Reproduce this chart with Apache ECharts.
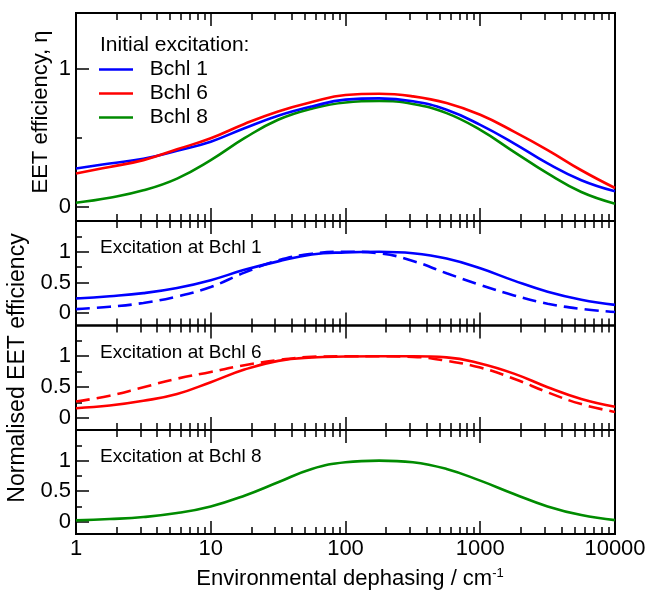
<!DOCTYPE html>
<html>
<head>
<meta charset="utf-8">
<script src="https://cdn.jsdelivr.net/npm/echarts@6/dist/echarts.min.js"></script>
<style>
  html, body { margin: 0; padding: 0; background: #ffffff; }
  #chart { width: 646px; height: 591px; }
</style>
</head>
<body>
<div id="chart"></div>
<script>
// Environmental dephasing rate (cm^-1), quarter-decade sampling
const dephasing = [1, 1.778, 3.162, 5.623, 10, 17.78, 31.62, 56.23, 100, 177.8, 316.2, 562.3, 1000, 1778, 3162, 5623, 10000];

// Absolute EET efficiency for each initially excited Bchl
const effBchl1 = [0.279, 0.315, 0.349, 0.407, 0.472, 0.569, 0.659, 0.726, 0.775, 0.784, 0.763, 0.702, 0.593, 0.460, 0.315, 0.194, 0.114];
const effBchl6 = [0.243, 0.290, 0.339, 0.417, 0.497, 0.600, 0.690, 0.758, 0.809, 0.818, 0.799, 0.751, 0.666, 0.545, 0.412, 0.266, 0.138];
const effBchl8 = [0.032, 0.068, 0.121, 0.206, 0.339, 0.497, 0.630, 0.710, 0.755, 0.765, 0.744, 0.678, 0.557, 0.399, 0.243, 0.109, 0.025];

// Normalised EET efficiency (solid and dashed curves)
const normBchl1 = [0.240, 0.277, 0.327, 0.410, 0.538, 0.705, 0.843, 0.955, 0.990, 1.000, 0.975, 0.890, 0.730, 0.530, 0.350, 0.220, 0.135];
const normBchl1Dashed = [0.067, 0.105, 0.167, 0.272, 0.427, 0.660, 0.860, 0.967, 1.000, 0.975, 0.850, 0.650, 0.460, 0.290, 0.155, 0.070, 0.020];
const normBchl6 = [0.155, 0.198, 0.275, 0.386, 0.578, 0.783, 0.925, 0.980, 0.995, 1.000, 1.000, 0.982, 0.882, 0.717, 0.496, 0.305, 0.177];
const normBchl6Dashed = [0.264, 0.358, 0.496, 0.635, 0.744, 0.854, 0.937, 0.990, 1.000, 1.000, 0.990, 0.926, 0.816, 0.635, 0.413, 0.221, 0.094];
const normBchl8 = [0.022, 0.044, 0.077, 0.142, 0.251, 0.426, 0.645, 0.863, 0.973, 1.000, 0.973, 0.863, 0.672, 0.454, 0.251, 0.109, 0.027];

// Tick positions
const xMajorTicks = [1, 10, 100, 1000, 10000];
const xMinorTicks = [2, 3, 4, 5, 6, 7, 8, 9, 20, 30, 40, 50, 60, 70, 80, 90,
  200, 300, 400, 500, 600, 700, 800, 900, 2000, 3000, 4000, 5000, 6000, 7000, 8000, 9000];
const yTopTicks = [0, 1];
const yTopMinorTicks = [0.5];
const yNormTicks = [0, 0.5, 1];
const yNormMinorTicks = [0.25, 0.75, 1.25];

// Labels
const panelLabels = ['Excitation at Bchl 1', 'Excitation at Bchl 6', 'Excitation at Bchl 8'];
const legendTitle = 'Initial excitation:';
const topYTitle = 'EET efficiency, \u03b7';
const normYTitle = 'Normalised EET efficiency';

const FONT = '"Liberation Sans", Arial, Helvetica, sans-serif';
const BLUE = '#0000ff', RED = '#ff0000', GREEN = '#008b00';
const TICK_FONT = 22;

const panels = [
  { top: 13, height: 208, min: -0.1, max: 1.4, ticks: yTopTicks, minor: yTopMinorTicks },
  { top: 221, height: 104.5, min: -0.2, max: 1.5, ticks: yNormTicks, minor: yNormMinorTicks },
  { top: 325.5, height: 104.5, min: -0.2, max: 1.5, ticks: yNormTicks, minor: yNormMinorTicks },
  { top: 430, height: 104, min: -0.2, max: 1.5, ticks: yNormTicks, minor: yNormMinorTicks }
];

const tickLine = { color: '#000', width: 1.5 };
const grids = [], xAxes = [], yAxes = [];

panels.forEach((p, g) => {
  grids.push({
    left: 76, right: 31, top: p.top, height: p.height,
    outerBoundsMode: 'none', containLabel: false,
    show: true, borderColor: '#000', borderWidth: 2, backgroundColor: 'transparent'
  });
  const xBase = (position, ticks, length, withLabels) => ({
    gridIndex: g, type: 'log', logBase: 10, min: 1, max: 10000, position: position,
    axisLine: { show: false, onZero: false },
    axisTick: { show: true, inside: true, length: length, lineStyle: tickLine, customValues: ticks },
    axisLabel: withLabels ? {
      show: true, customValues: xMajorTicks, margin: 4, fontSize: TICK_FONT, fontFamily: FONT, color: '#000',
      formatter: v => String(Math.round(v))
    } : { show: false },
    splitLine: { show: false }, minorTick: { show: false }
  });
  xAxes.push(xBase('bottom', xMajorTicks, 13, g === 3));
  xAxes.push(xBase('top', xMajorTicks, 13, false));
  xAxes.push(xBase('bottom', xMinorTicks, 7, false));
  xAxes.push(xBase('top', xMinorTicks, 7, false));

  yAxes.push({
    gridIndex: g, type: 'value', min: p.min, max: p.max, position: 'left',
    axisLine: { show: false, onZero: false },
    axisTick: { show: true, inside: true, length: 13, lineStyle: tickLine, customValues: p.ticks },
    axisLabel: { show: true, customValues: p.ticks, margin: 5, fontSize: TICK_FONT, fontFamily: FONT, color: '#000' },
    splitLine: { show: false }
  });
  yAxes.push({
    gridIndex: g, type: 'value', min: p.min, max: p.max, position: 'left',
    axisLine: { show: false, onZero: false },
    axisTick: { show: true, inside: true, length: 6, lineStyle: tickLine, customValues: p.minor },
    axisLabel: { show: false },
    splitLine: { show: false }
  });
});

function curve(name, panel, values, color, dashed) {
  return {
    type: 'line', name: name,
    xAxisIndex: panel * 4, yAxisIndex: panel * 2,
    data: dephasing.map((x, i) => [x, values[i]]),
    smooth: 0.45, symbol: 'none', showSymbol: false,
    lineStyle: { color: color, width: 2.6, type: dashed ? [14, 7] : 'solid' },
    itemStyle: { color: color },
    emphasis: { disabled: true },
    animation: false
  };
}

const series = [
  curve('Bchl 8', 0, effBchl8, GREEN),
  curve('Bchl 1', 0, effBchl1, BLUE),
  curve('Bchl 6', 0, effBchl6, RED),
  curve('Bchl 1 normalised', 1, normBchl1, BLUE),
  curve('Bchl 1 normalised (dashed)', 1, normBchl1Dashed, BLUE, true),
  curve('Bchl 6 normalised', 2, normBchl6, RED),
  curve('Bchl 6 normalised (dashed)', 2, normBchl6Dashed, RED, true),
  curve('Bchl 8 normalised', 3, normBchl8, GREEN)
];

const textStyleBase = { fontFamily: FONT, fill: '#000' };
const graphics = [
  { type: 'text', x: 100, y: 45, style: Object.assign({ text: legendTitle, fontSize: 21, textAlign: 'left', textVerticalAlign: 'middle', align: 'left', verticalAlign: 'middle' }, textStyleBase) },
  { type: 'text', x: 41, y: 112, rotation: Math.PI / 2, style: Object.assign({ text: topYTitle, fontSize: 22, textAlign: 'center', textVerticalAlign: 'middle', align: 'center', verticalAlign: 'middle' }, textStyleBase) },
  { type: 'text', x: 18, y: 368, rotation: Math.PI / 2, style: Object.assign({ text: normYTitle, fontSize: 23, textAlign: 'center', textVerticalAlign: 'middle', align: 'center', verticalAlign: 'middle' }, textStyleBase) },
  {
    type: 'text', x: 350, y: 579,
    style: {
      text: '{a|Environmental dephasing / cm}{b|-1}',
      rich: {
        a: { fontSize: 22, fontFamily: FONT, fill: '#000', lineHeight: 25 },
        b: { fontSize: 13, fontFamily: FONT, fill: '#000', verticalAlign: 'top', lineHeight: 25 }
      },
      textAlign: 'center', textVerticalAlign: 'middle', align: 'center', verticalAlign: 'middle'
    }
  }
];
[248, 353, 457].forEach((y, i) => {
  graphics.push({ type: 'text', x: 100, y: y, style: Object.assign({ text: panelLabels[i], fontSize: 19, textAlign: 'left', textVerticalAlign: 'middle', align: 'left', verticalAlign: 'middle' }, textStyleBase) });
});

const chart = echarts.init(document.getElementById('chart'), null, { renderer: 'canvas' });
chart.setOption({
  animation: false,
  backgroundColor: '#ffffff',
  grid: grids,
  xAxis: xAxes,
  yAxis: yAxes,
  legend: {
    data: ['Bchl 1', 'Bchl 6', 'Bchl 8'],
    orient: 'vertical', left: 99, top: 59, padding: 0,
    icon: 'rect',
    itemWidth: 34, itemHeight: 2.6, itemGap: 3,
    selectedMode: false,
    formatter: n => '  ' + n,
    textStyle: { fontSize: 21, fontFamily: FONT, color: '#000' }
  },
  graphic: graphics,
  series: series
});
</script>
</body>
</html>
